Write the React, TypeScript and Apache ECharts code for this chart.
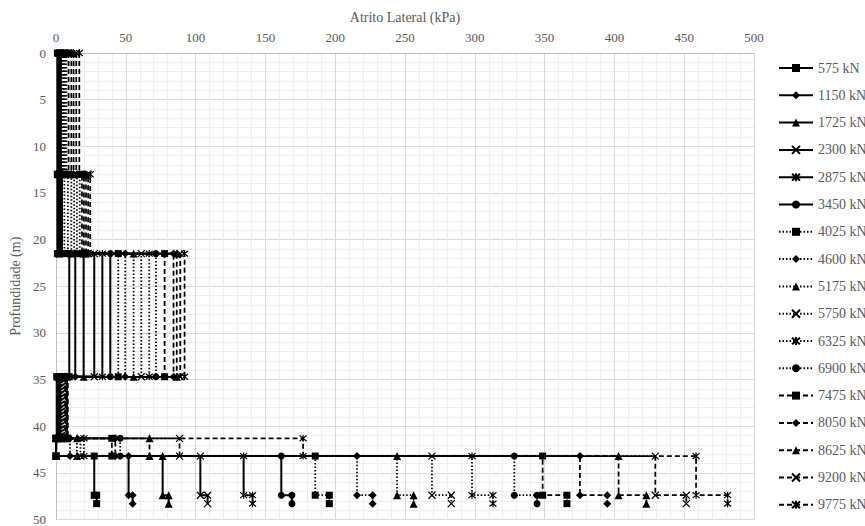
import React, { useEffect, useRef } from "react";
import * as echarts from "echarts";

// Loads (kN) for each curve
const loads = [575, 1150, 1725, 2300, 2875, 3450, 4025, 4600, 5175, 5750, 6325, 6900, 7475, 8050, 8625, 9200, 9775];

// Layer boundaries (depth, m)
const depthBoundaries = [0, 13, 21.5, 34.7, 41.3, 43.2, 47.4, 48.3];

// Lateral friction (kPa) in each layer, one value per load
const layer1 = [1, 1.5, 2, 2.5, 3, 3.5, 4.5, 5, 5.5, 6, 6.5, 7.5, 9, 11, 12.6, 14.5, 16.7];
const layer2 = [1, 1.5, 2, 2.5, 3.5, 4.3, 6, 8.5, 11, 13, 15, 17, 18.6, 20, 21.5, 23, 24.5];
const layer3 = [9.5, 13.8, 19.8, 27.4, 33.2, 38.9, 44.6, 49.6, 55.6, 61.1, 66.8, 71.6, 77.8, 84.2, 86.5, 89, 92.1];
const layer4 = [0.5, 1, 1.5, 2, 2.5, 3, 3.5, 4, 4.5, 5, 5.5, 6, 6.5, 7, 7.5, 8, 8.5];
const layer5 = [0, 0, 0, 0, 0, 0, 0, 10, 15, 17.5, 20, 46, 40, 42.5, 67, 88.5, 177];
const layer6 = [27.4, 52, 76.4, 103.4, 134.4, 161.4, 185.7, 215.6, 244.3, 269.3, 298, 328.3, 348.6, 375.3, 403, 429.3, 458.5];
const layer7 = [29.1, 54.9, 80.7, 108.6, 140.8, 169, 195.8, 226.8, 256.2, 283.2, 313, 344.6, 366, 394.9, 422.9, 451.5, 481.1];

const layers = [layer1, layer2, layer3, layer4, layer5, layer6, layer7];

const SYM_X = "path://M0,0L10,10M10,0L0,10";
const SYM_AST = "path://M0,0L10,10M10,0L0,10M5,-1L5,11";
const markerCycle = ["rect", "diamond", "triangle", SYM_X, SYM_AST, "circle"];
const markerSizes: Record<string, number> = {
  rect: 7,
  diamond: 8,
  triangle: 8,
  [SYM_X]: 7,
  [SYM_AST]: 7,
  circle: 7,
};

const FONT = "'Liberation Serif', 'Times New Roman', serif";
const TEXT = "#595959";

export default function App() {
  const ref = useRef<HTMLDivElement>(null);

  useEffect(() => {
    if (!ref.current) return;
    const chart = echarts.init(ref.current, undefined, { renderer: "svg" });

    const series = loads.map((load, i) => {
      const data: number[][] = [];
      for (let k = 0; k < layers.length; k++) {
        const f = layers[k][i];
        data.push([f, depthBoundaries[k]]);
        data.push([f, depthBoundaries[k + 1]]);
      }
      const sym = markerCycle[i % 6];
      const isStroke = sym === SYM_X || sym === SYM_AST;
      const lineType: any = i < 6 ? "solid" : i < 12 ? [1.5, 2] : [5, 3];
      return {
        name: `${load} kN`,
        type: "line",
        data,
        symbol: sym,
        symbolSize: markerSizes[sym],
        showAllSymbol: true,
        clip: false,
        lineStyle: { color: "#000", width: i < 6 ? 2 : 1.75, type: lineType },
        itemStyle: {
          color: "#000",
          borderColor: "#000",
          borderWidth: isStroke ? 1.2 : 0,
        },
        emphasis: { disabled: true },
      };
    });

    chart.setOption({
      animation: false,
      backgroundColor: "#fff",
      textStyle: { fontFamily: FONT },
      grid: { left: 56, right: 111, top: 53, bottom: 0, containLabel: false },
      legend: {
        orient: "vertical",
        left: 778,
        top: 61,
        padding: 0,
        itemWidth: 34,
        itemHeight: 10,
        itemGap: 13.3,
        textStyle: { fontFamily: FONT, fontSize: 14, color: TEXT },
        data: loads.map((l) => `${l} kN`),
      },
      xAxis: {
        type: "value",
        position: "top",
        min: 0,
        max: 500,
        interval: 50,
        name: "Atrito Lateral (kPa)",
        nameLocation: "middle",
        nameGap: 29,
        nameTextStyle: { fontFamily: FONT, fontSize: 14, color: TEXT },
        axisLine: { show: true, lineStyle: { color: "#bfbfbf", width: 1 } },
        axisTick: { show: false },
        axisLabel: { fontFamily: FONT, fontSize: 13, color: TEXT, margin: 9 },
        splitLine: { show: true, lineStyle: { color: "#d9d9d9", width: 1 } },
        minorTick: { show: false, splitNumber: 5 },
        minorSplitLine: { show: true, lineStyle: { color: "#eeeeee", width: 1 } },
      },
      yAxis: {
        type: "value",
        inverse: true,
        min: 0,
        max: 50,
        interval: 5,
        name: "Profundidade (m)",
        nameLocation: "middle",
        nameGap: 32,
        nameTextStyle: { fontFamily: FONT, fontSize: 14, color: TEXT },
        axisLine: { show: true, lineStyle: { color: "#bfbfbf", width: 1 } },
        axisTick: { show: false },
        axisLabel: { fontFamily: FONT, fontSize: 13, color: TEXT, margin: 10 },
        splitLine: { show: true, lineStyle: { color: "#d9d9d9", width: 1 } },
        minorTick: { show: false, splitNumber: 5 },
        minorSplitLine: { show: true, lineStyle: { color: "#eeeeee", width: 1 } },
      },
      series,
    });

    return () => chart.dispose();
  }, []);

  return (
    <div
      ref={ref}
      style={{ position: "absolute", left: 0, top: 0, width: 865, height: 526 }}
    />
  );
}
